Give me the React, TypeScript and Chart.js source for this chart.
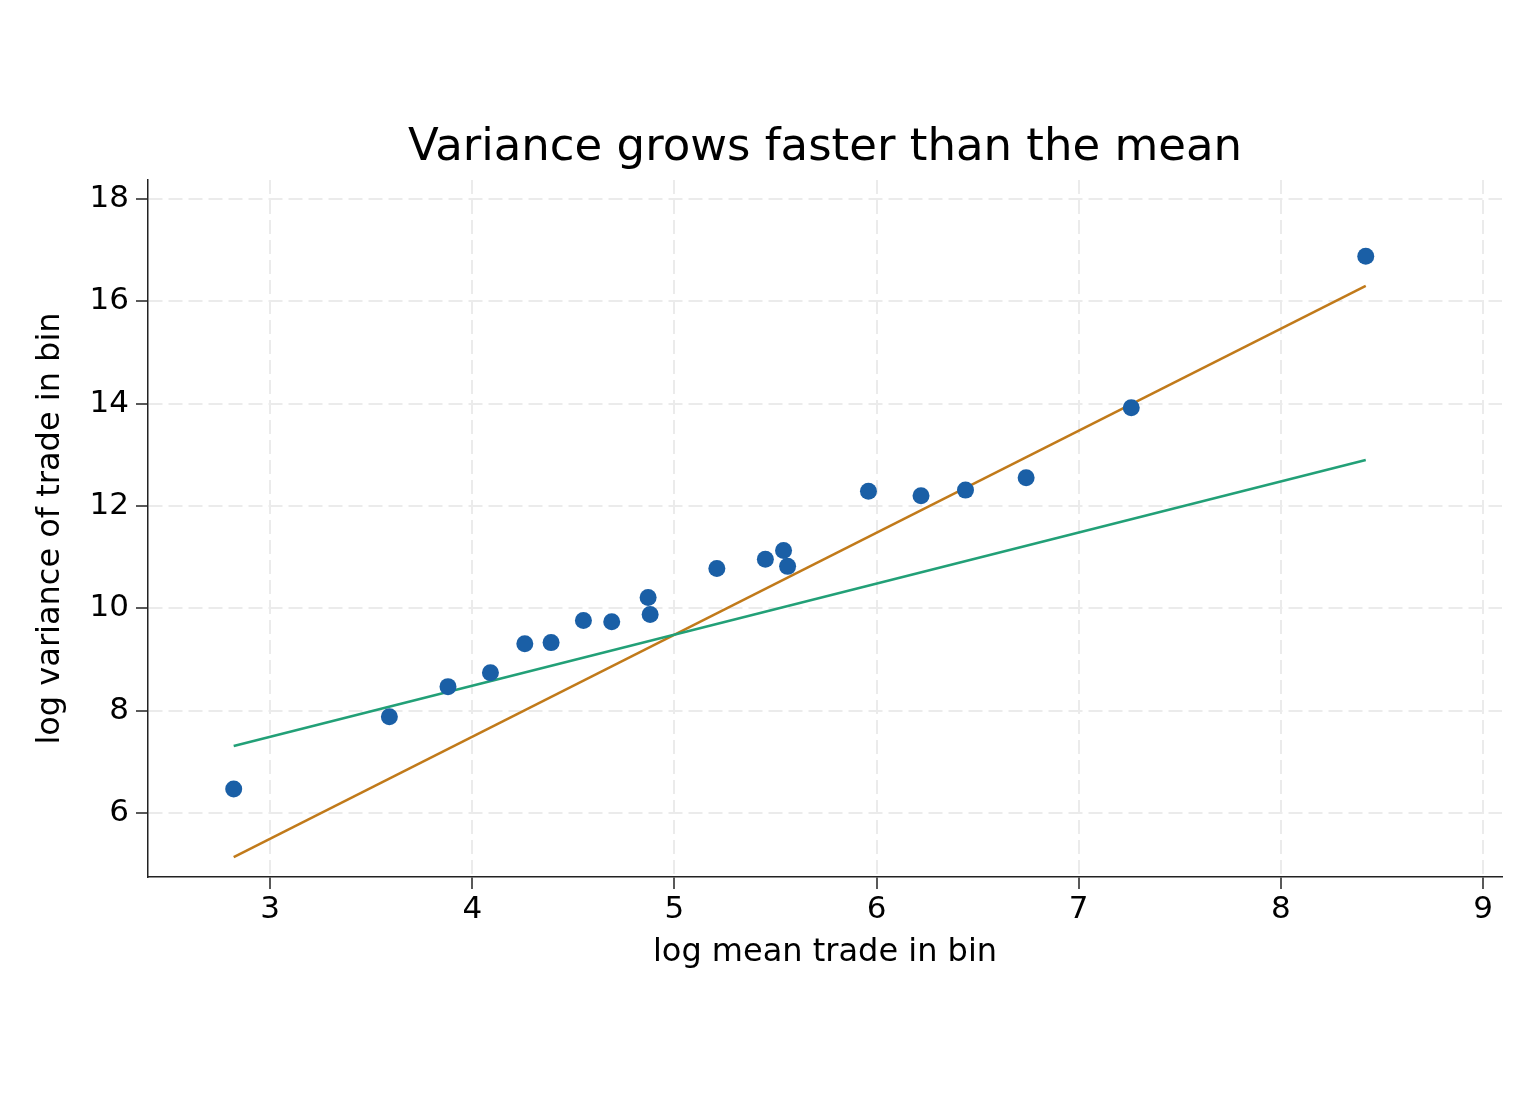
import React, { useEffect, useRef } from "react";
import { Chart, registerables } from "chart.js";

Chart.register(...registerables);

// Binned data: log mean trade vs log variance of trade
const logMeanTrade = [2.82, 3.59, 3.88, 4.09, 4.26, 4.39, 4.55, 4.69, 4.87, 4.88, 5.21, 5.45, 5.54, 5.56, 5.96, 6.22, 6.44, 6.74, 7.26, 8.42];
const logVarTrade = [6.47, 7.88, 8.47, 8.74, 9.31, 9.33, 9.76, 9.74, 10.21, 9.88, 10.78, 10.96, 11.13, 10.82, 12.29, 12.2, 12.31, 12.55, 13.92, 16.88];

// Reference lines (endpoints)
const refLineX = [2.82, 8.42];
const slopeOneY = [7.31, 12.9];
const slopeTwoY = [5.14, 16.3];

const titleText = "Variance grows faster than the mean";
const xTitle = "log mean trade in bin";
const yTitle = "log variance of trade in bin";

const BLUE = "#1a5fa6";
const GREEN = "#22a077";
const ORANGE = "#c17a1a";

export default function App() {
  const ref = useRef<HTMLCanvasElement | null>(null);

  useEffect(() => {
    if (!ref.current) return;
    const toXY = (xs: number[], ys: number[]) => xs.map((x, i) => ({ x, y: ys[i] }));
    const gridCommon = {
      color: "#ebebeb",
      lineWidth: 2,
      tickColor: "#222",
      tickWidth: 1.5,
      tickLength: 12,
      tickBorderDash: [],
      drawOnChartArea: true,
      drawTicks: true,
    };
    const borderCommon = { display: true, color: "#222", width: 1.5, dash: [14, 6] };
    const chart = new Chart(ref.current, {
      type: "scatter",
      data: {
        datasets: [
          {
            label: "bins",
            data: toXY(logMeanTrade, logVarTrade),
            backgroundColor: BLUE,
            borderColor: BLUE,
            borderWidth: 0,
            pointRadius: 8.5,
            showLine: false,
          },
          {
            label: "slope 1",
            data: toXY(refLineX, slopeOneY),
            borderColor: GREEN,
            backgroundColor: GREEN,
            borderWidth: 2.5,
            pointRadius: 0,
            showLine: true,
          },
          {
            label: "slope 2",
            data: toXY(refLineX, slopeTwoY),
            borderColor: ORANGE,
            backgroundColor: ORANGE,
            borderWidth: 2.5,
            pointRadius: 0,
            showLine: true,
          },
        ],
      },
      options: {
        responsive: false,
        devicePixelRatio: 1,
        animation: false,
        layout: { padding: { left: 0, right: 34, top: 0, bottom: 132.5 } },
        plugins: {
          legend: { display: false },
          tooltip: { enabled: false },
          title: {
            display: true,
            fullSize: false,
            text: titleText,
            color: "#000",
            font: { family: "'DejaVu Sans'", size: 45, weight: "normal" },
            padding: { top: 121.5, bottom: 4.5 },
          },
        },
        scales: {
          x: {
            type: "linear",
            min: 2.396,
            max: 9.094,
            afterFit: (s: any) => {
              s.height = 94.5;
            },
            border: borderCommon as any,
            grid: gridCommon as any,
            ticks: {
              stepSize: 1,
              includeBounds: false,
              color: "#000",
              padding: 2,
              maxRotation: 0,
              font: { family: "'DejaVu Sans'", size: 31 },
            },
            title: {
              display: true,
              text: xTitle,
              color: "#000",
              font: { family: "'DejaVu Sans'", size: 32 },
              padding: { top: 0, bottom: 0 },
            },
          },
          y: {
            type: "linear",
            min: 4.75,
            max: 18.37,
            afterFit: (s: any) => {
              s.width = 148;
            },
            border: borderCommon as any,
            grid: gridCommon as any,
            ticks: {
              stepSize: 2,
              includeBounds: false,
              color: "#000",
              padding: 7,
              font: { family: "'DejaVu Sans'", size: 31 },
            },
            title: {
              display: true,
              text: yTitle,
              color: "#000",
              font: { family: "'DejaVu Sans'", size: 32 },
              padding: { top: 31.4, bottom: 0 },
            },
          },
        },
      },
    });
    return () => chart.destroy();
  }, []);

  return (
    <div style={{ position: "fixed", left: 0, top: 0, width: 1536, height: 1104, background: "#fff" }}>
      <canvas ref={ref} width={1536} height={1104} style={{ width: 1536, height: 1104 }} />
    </div>
  );
}
